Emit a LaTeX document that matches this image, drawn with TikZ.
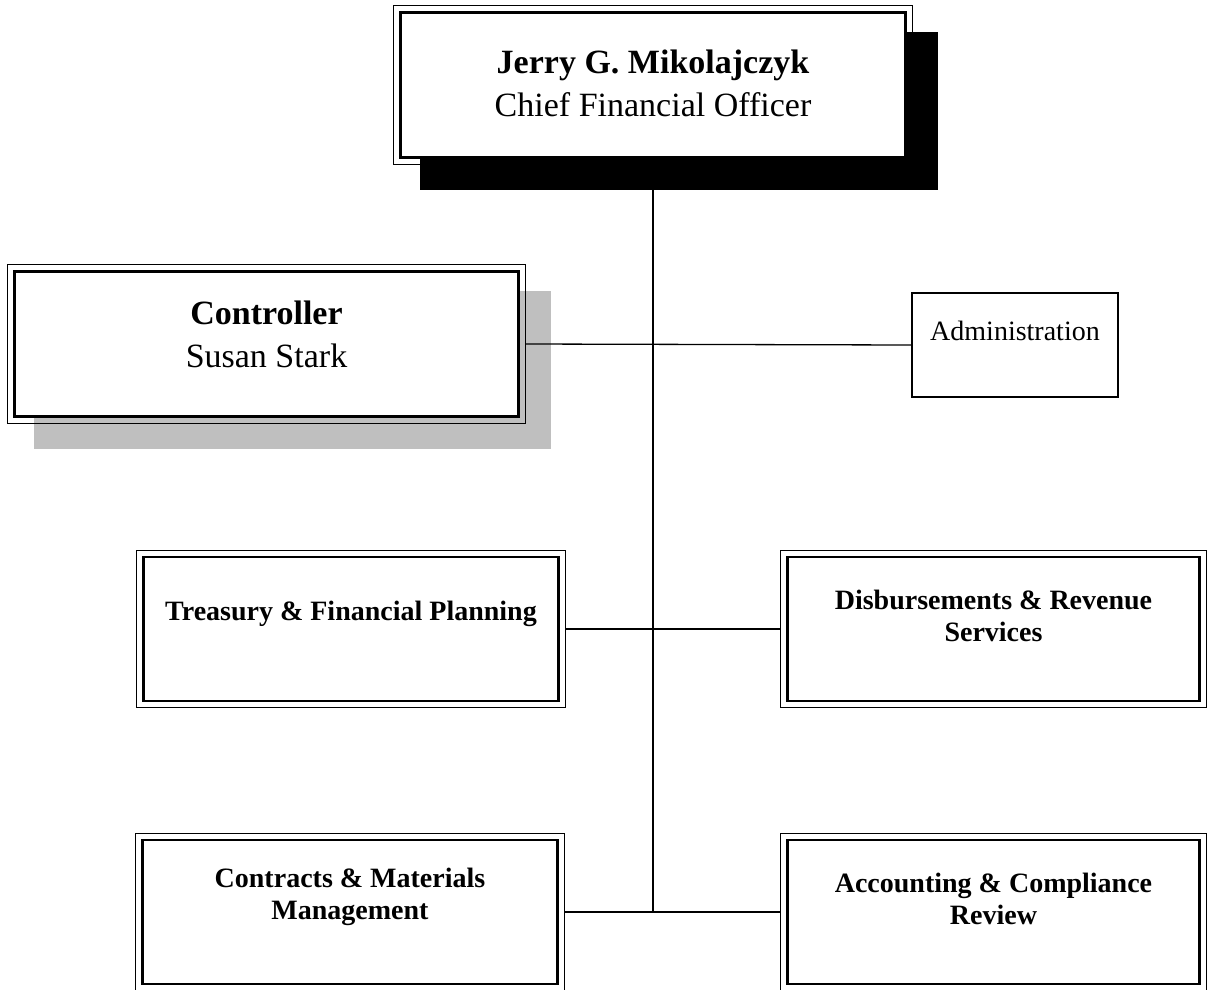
\documentclass[tikz,border=0pt]{standalone}
\usepackage{fontspec}
\setmainfont{Liberation Serif}
\usetikzlibrary{calc}
\usetikzlibrary{backgrounds}

% top-aligned text inside a box: height, first baseline, lines
\newcommand{\boxlines}[3]{\parbox[c][#1][t]{400pt}{\centering\rule{0pt}{#2}#3}}

\begin{document}
\begin{tikzpicture}[
                x = 1pt, y = 1pt,
                every node/.style = {draw, fill = white, inner sep = 0pt},
                chief/.style = {line width = 2.6pt, minimum width = 505pt,
                  minimum height = 145pt, font = \fontsize{34}{43}\selectfont},
                unitbox/.style = {line width = 2.6pt, minimum height = 144pt,
                  font = \fontsize{28}{32}\selectfont\bfseries},
                plainbox/.style = {line width = 1.8pt, minimum width = 206pt,
                  minimum height = 104pt, font = \fontsize{28}{31}\selectfont},
                frame/.style = {line width = 1.3pt},
                link/.style = {line width = 1.3pt}
                ]
              \useasboundingbox (0,0) rectangle (1207,-990);

              \node[chief] (cfo) at (653,-85)
                {\boxlines{145pt}{61pt}{\textbf{Jerry G. Mikolajczyk}\\Chief Financial Officer}};
              \node[chief, minimum width = 504pt] (ctrl) at (266.5,-344)
                {\boxlines{145pt}{53pt}{\textbf{Controller}\\Susan Stark}};
              \node[plainbox] (admin) at (1015,-345)
                {\parbox[c][104pt][t]{190pt}{\centering\rule{0pt}{47pt}Administration}};
              \node[unitbox, minimum width = 415pt] (tre) at (351,-629)
                {\boxlines{144pt}{63pt}{Treasury \& Financial Planning}};
              \node[unitbox, minimum width = 412pt] (dis) at (993.5,-629)
                {\boxlines{144pt}{52pt}{Disbursements \& Revenue\\Services}};
              \node[unitbox, minimum width = 415pt] (con) at (350,-912)
                {\boxlines{144pt}{47pt}{Contracts \& Materials\\Management}};
              \node[unitbox, minimum width = 412pt] (acc) at (993.5,-912)
                {\boxlines{144pt}{52pt}{Accounting \& Compliance\\Review}};

              % outer frames
              \foreach \n in {cfo,ctrl,tre,dis,con,acc}
                \draw[frame] ($(\n.north west)+(-5.5,5.5)$) rectangle ($(\n.south east)+(5.5,-5.5)$);

              \begin{scope}[on background layer]
                % trunk
                \draw[link] (cfo.south) -- (cfo.south |- con.east);
                % shadows
                \fill[black] ($(cfo.north west)+(20.5,-20.5)$) rectangle ($(cfo.south east)+(31.5,-31.5)$);
                \fill[black!25] ($(ctrl.north west)+(20.5,-20.5)$) rectangle ($(ctrl.south east)+(31.5,-31.5)$);
                % branches
                \draw[link] ([xshift=5.5pt]ctrl.east) -- (admin.west);
                \draw[link] ([xshift=5.5pt]tre.east) -- ([xshift=-5.5pt]dis.west);
                \draw[link] ([xshift=5.5pt]con.east) -- ([xshift=-5.5pt]acc.west);
              \end{scope}
            \end{tikzpicture}
\end{document}
